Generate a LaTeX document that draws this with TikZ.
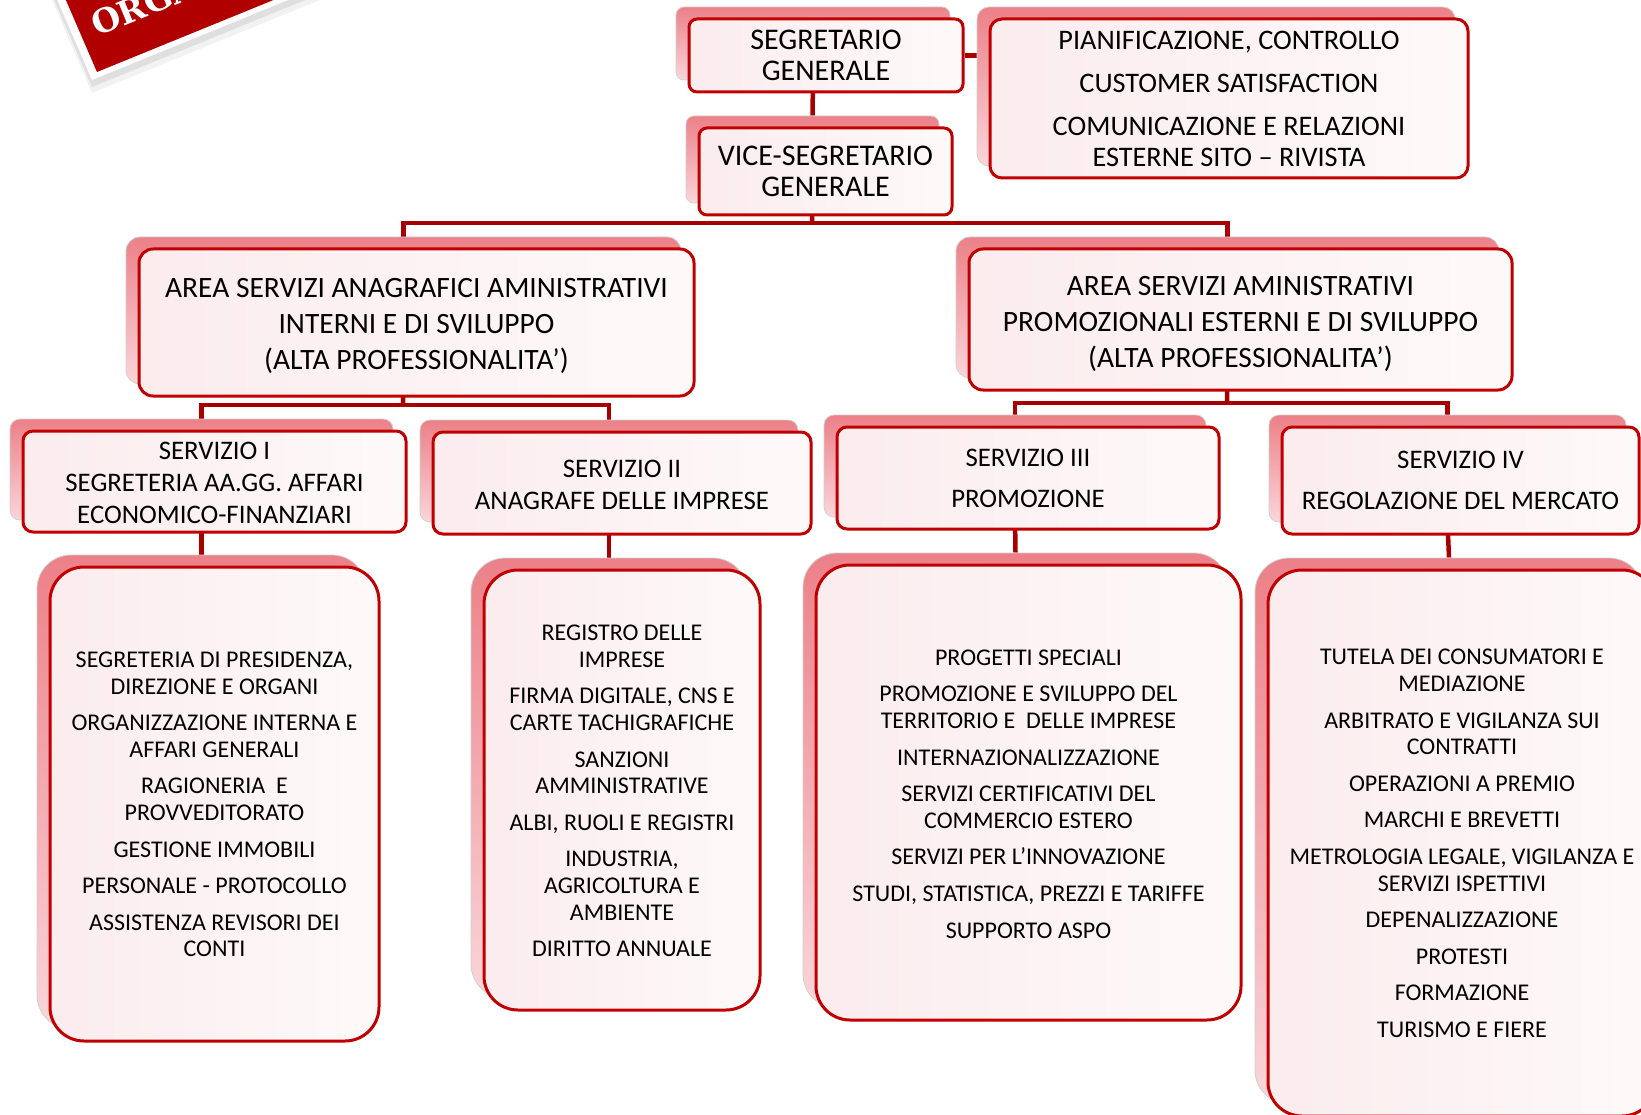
\documentclass[tikz,border=0pt]{standalone}
\usepackage{fontspec}
\setmainfont{Carlito}
\newfontfamily\orgBannerFont{DejaVu Serif}
\usetikzlibrary{calc}
\definecolor{bordred}{RGB}{192,0,0}
\definecolor{connred}{RGB}{168,0,0}
\definecolor{bannerred}{RGB}{176,0,0}
\definecolor{frontl}{RGB}{251,236,238}
\definecolor{frontr}{RGB}{254,249,249}
\definecolor{backt}{RGB}{236,128,136}
\definecolor{backb}{RGB}{249,214,218}
\pgfdeclarelayer{pagelayer}
\pgfdeclarelayer{linklayer}
\pgfdeclarelayer{backlayer}
\pgfsetlayers{pagelayer,linklayer,backlayer,main}
\newcommand\orgHeadFont{\fontsize{30}{31.5}\selectfont}
\newcommand\orgTopFont{\fontsize{28.3}{31.5}\selectfont}
\newcommand\orgAreaFont{\fontsize{29.5}{35.6}\selectfont}
\newcommand\orgServFont{\fontsize{26.8}{32}\selectfont}
\newcommand\orgBigFont{\fontsize{24}{26.6}\selectfont}
\tikzset{
  frontbox/.style={draw=bordred, line width=3pt, left color=frontl, right color=frontr, inner sep=0pt},
  backbox/.style={draw=black!18, line width=0.8pt, top color=backt, bottom color=backb, inner sep=0pt},
  boxtext/.style={inner sep=0pt, align=center, text=black},
  linkline/.style={draw=connred, line width=4.5pt},
}
% #1 name, #2 x1, #3 y1, #4 x2, #5 y2, #6 radius, #7 font, #8 text, #9 text offset (down)
\newcommand\orgbox[9]{%
  \begin{pgfonlayer}{backlayer}
    \node[backbox, rounded corners=#6pt, minimum width={(#4-#2)*1pt}, minimum height={(#5-#3)*1pt}] (b#1) at ({(#2+#4)/2-13},{(#3+#5)/2-12}) {};
  \end{pgfonlayer}
  \node[frontbox, rounded corners=#6pt, minimum width={(#4-#2)*1pt}, minimum height={(#5-#3)*1pt}] (#1) at ({(#2+#4)/2},{(#3+#5)/2}) {};
  \node[boxtext, font=#7] (#1t) at ({(#2+#4)/2},{(#3+#5)/2+#9}) {#8};
}
\begin{document}
\begin{tikzpicture}[x=1pt,y=-1pt]
\useasboundingbox (0,0) rectangle (1641,1115);
\begin{pgfonlayer}{pagelayer}
\fill[white] (0,0) rectangle (1641,1115);
\end{pgfonlayer}

% banner
\fill[black, opacity=0.05] (92,93) -- (320,0) -- (320,-120) -- (0,-120) -- cycle;
\fill[black, opacity=0.08] (92,87) -- (320,-6) -- (320,-120) -- (2,-120) -- cycle;
\fill[white] (92,80) -- (320,-13) -- (320,-120) -- (5,-120) -- cycle;
\fill[bannerred] (97,72) -- (320,-19) -- (320,-120) -- (14,-120) -- cycle;
\node[anchor=base west, inner sep=0pt, rotate=22.2, text=white, font=\orgBannerFont\bfseries\fontsize{33}{34}\selectfont] (banner) at (97,37) {ORGA};

% boxes
\orgbox{SEG}{689}{19}{963}{92}{8}{\orgHeadFont}{SEGRETARIO\\GENERALE}{0}
\orgbox{PIAN}{990}{19}{1468}{178}{12}{\orgTopFont}{PIANIFICAZIONE, CONTROLLO\\[11.5pt]CUSTOMER SATISFACTION\\[11.5pt]COMUNICAZIONE E RELAZIONI\\ESTERNE SITO – RIVISTA}{0.5}
\orgbox{VICE}{699}{128}{952}{215}{8}{\orgHeadFont}{VICE-SEGRETARIO\\GENERALE}{0}
\orgbox{AL}{139}{249}{694}{396}{14}{\orgAreaFont}{AREA SERVIZI ANAGRAFICI AMINISTRATIVI\\INTERNI E DI SVILUPPO\\(ALTA PROFESSIONALITA’)}{3.5}
\orgbox{AR}{969}{249}{1512}{390}{14}{\orgAreaFont}{AREA SERVIZI AMINISTRATIVI\\PROMOZIONALI ESTERNI E DI SVILUPPO\\(ALTA PROFESSIONALITA’)}{4.5}
\orgbox{S1}{23}{431}{406}{532}{10}{\orgServFont}{SERVIZIO I\\SEGRETERIA AA.GG. AFFARI\\ECONOMICO-FINANZIARI}{1}
\orgbox{S2}{433}{432}{811}{534}{10}{\orgServFont}{SERVIZIO II\\ANAGRAFE DELLE IMPRESE}{1.5}
\orgbox{S3}{837}{427}{1219}{529}{10}{\orgServFont}{SERVIZIO III\\[8.5pt]PROMOZIONE}{0.5}
\orgbox{S4}{1282}{427}{1639}{534}{10}{\orgServFont}{SERVIZIO IV\\[8.5pt]REGOLAZIONE DEL MERCATO}{0}
\orgbox{B1}{50}{567}{379}{1041}{34}{\orgBigFont}{SEGRETERIA DI PRESIDENZA,\\DIREZIONE E ORGANI\\[10pt]ORGANIZZAZIONE INTERNA E\\AFFARI GENERALI\\[10pt]RAGIONERIA\ \ E\\PROVVEDITORATO\\[10pt]GESTIONE IMMOBILI\\[10pt]PERSONALE - PROTOCOLLO\\[10pt]ASSISTENZA REVISORI DEI\\CONTI}{0.5}
\orgbox{B2}{484}{570}{760}{1010}{34}{\orgBigFont}{REGISTRO DELLE\\IMPRESE\\[10pt]FIRMA DIGITALE, CNS E\\CARTE TACHIGRAFICHE\\[10pt]SANZIONI\\AMMINISTRATIVE\\[10pt]ALBI, RUOLI E REGISTRI\\[10pt]INDUSTRIA,\\AGRICOLTURA E\\AMBIENTE\\[10pt]DIRITTO ANNUALE}{1}
\orgbox{B3}{816}{565}{1241}{1020}{34}{\orgBigFont}{PROGETTI SPECIALI\\[10pt]PROMOZIONE E SVILUPPO DEL\\TERRITORIO E\ \ DELLE IMPRESE\\[10pt]INTERNAZIONALIZZAZIONE\\[10pt]SERVIZI CERTIFICATIVI DEL\\COMMERCIO ESTERO\\[10pt]SERVIZI PER L’INNOVAZIONE\\[10pt]STUDI, STATISTICA, PREZZI E TARIFFE\\[10pt]SUPPORTO ASPO}{1.5}
\orgbox{B4}{1268}{570}{1656}{1116}{34}{\orgBigFont}{TUTELA DEI CONSUMATORI E\\MEDIAZIONE\\[10pt]ARBITRATO E VIGILANZA SUI\\CONTRATTI\\[10pt]OPERAZIONI A PREMIO\\[10pt]MARCHI E BREVETTI\\[10pt]METROLOGIA LEGALE, VIGILANZA E\\SERVIZI ISPETTIVI\\[10pt]DEPENALIZZAZIONE\\[10pt]PROTESTI\\[10pt]FORMAZIONE\\[10pt]TURISMO E FIERE}{0.5}

% connectors
\begin{pgfonlayer}{linklayer}
  \coordinate (barT) at (812,223);
  \coordinate (barL) at (403,405);
  \coordinate (barR) at (1227,403);
  \draw[linkline] (SEG.east) -- (SEG.east -| PIAN.west);
  \draw[linkline] (bSEG.south) -- (bVICE.north);
  \draw[linkline] (bVICE.south) -- (barT);
  \draw[linkline] (bAL.north) |- (barT) -| (bAR.north);
  \draw[linkline] (bAL.south) -- (barL);
  \draw[linkline] (bS1.north) |- (barL) -| (bS2.north);
  \draw[linkline] (bAR.south) -- (barR);
  \draw[linkline] (bS3.north) |- (barR) -| (bS4.north);
  \draw[linkline] (bS1.south) -- (bB1.north);
  \draw[linkline] (bS2.south) -- (bB2.north);
  \draw[linkline] (bS3.south) -- (bB3.north);
  \draw[linkline] (bS4.south) -- (bB4.north);
\end{pgfonlayer}
\end{tikzpicture}
\end{document}
